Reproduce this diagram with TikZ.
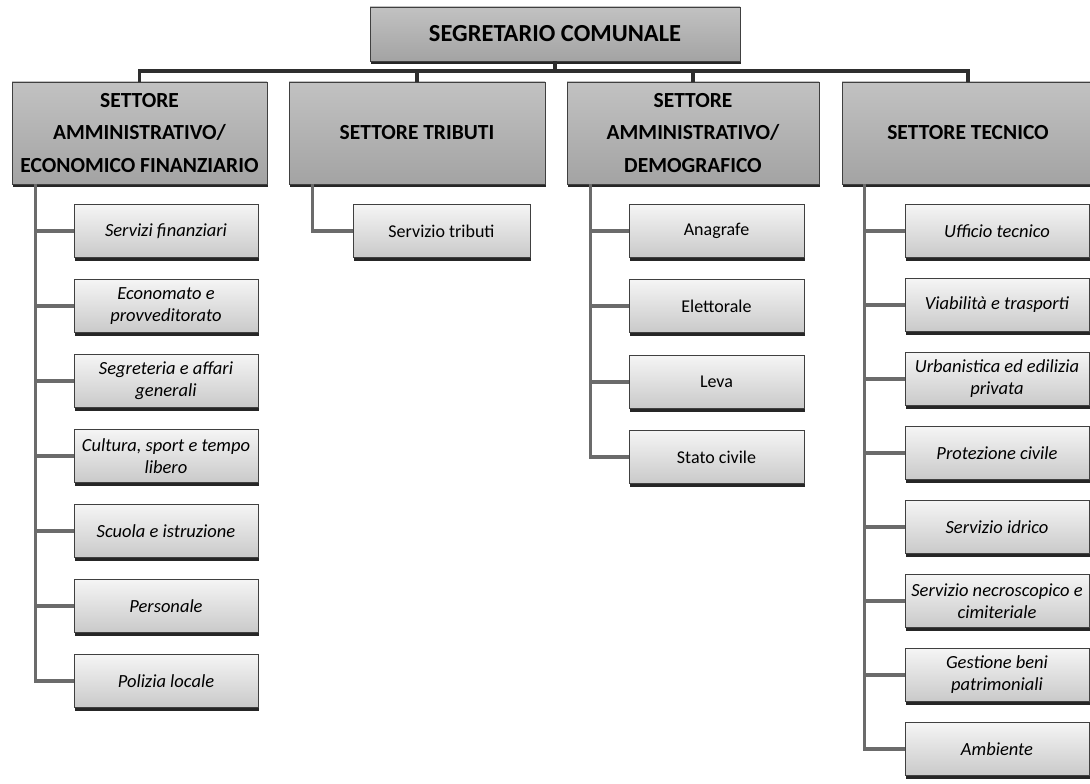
\documentclass[tikz,border=0pt]{standalone}
\usepackage{fontspec}
\setmainfont{Carlito}
\usetikzlibrary{shadows}
\begin{document}
\begin{tikzpicture}[x=1pt,y=-1pt,
  boxbase/.style={draw=black!75, line width=0.8pt, rectangle, align=center, inner sep=2pt,
     drop shadow={shadow xshift=1.2pt, shadow yshift=-3pt, fill=black!85, opacity=1}},
  headbox/.style={boxbase, top color=black!24, bottom color=black!36,
     font=\fontsize{21.5}{32.5}\selectfont\bfseries, minimum height=102pt},
  rootbox/.style={boxbase, top color=black!24, bottom color=black!36,
     font=\fontsize{24.5}{28}\selectfont\bfseries, minimum width=370pt, minimum height=54pt},
  childbox/.style={boxbase, top color=black!4, bottom color=black!21,
     font=\fontsize{18}{22}\selectfont, minimum height=53pt},
  itbox/.style={childbox, font=\fontsize{18.5}{22}\selectfont\itshape},
  bar/.style={draw=black!82, line width=3.4pt},
  conn/.style={draw=black!58, line width=3.4pt}
]
\useasboundingbox[fill=white] (0,0) rectangle (1090,784);

% root and headers
\node[rootbox] (root) at (555,34) {SEGRETARIO COMUNALE};
\node[headbox, minimum width=255pt] (h1) at (139.5,133) {SETTORE\\AMMINISTRATIVO/\\ECONOMICO FINANZIARIO};
\node[headbox, minimum width=256pt] (h2) at (417,133) {SETTORE TRIBUTI};
\node[headbox, minimum width=252pt] (h3) at (693,133) {SETTORE\\AMMINISTRATIVO/\\DEMOGRAFICO};
\node[headbox, minimum width=252pt] (h4) at (968,133) {SETTORE TECNICO};

% bus
\coordinate (bus) at (0,71);

% children of h1
\node[itbox, minimum width=184pt] (a1) at (166,231) {Servizi finanziari};
\node[itbox, minimum width=184pt] (a2) at (166,306) {Economato e\\provveditorato};
\node[itbox, minimum width=184pt] (a3) at (166,381) {Segreteria e affari\\generali};
\node[itbox, minimum width=184pt] (a4) at (166,456) {Cultura, sport e tempo\\libero};
\node[itbox, minimum width=184pt] (a5) at (166,531) {Scuola e istruzione};
\node[itbox, minimum width=184pt] (a6) at (166,606) {Personale};
\node[itbox, minimum width=184pt] (a7) at (166,681) {Polizia locale};

% child of h2
\node[childbox, minimum width=177pt] (b1) at (441.5,231) {Servizio tributi};

% children of h3
\node[childbox, minimum width=175pt] (c1) at (716.5,231) {Anagrafe};
\node[childbox, minimum width=175pt] (c2) at (716.5,306) {Elettorale};
\node[childbox, minimum width=175pt] (c3) at (716.5,382) {Leva};
\node[childbox, minimum width=175pt] (c4) at (716.5,457) {Stato civile};

% children of h4
\node[itbox, minimum width=184pt] (d1) at (997,231) {Ufficio tecnico};
\node[itbox, minimum width=184pt] (d2) at (997,305) {Viabilità e trasporti};
\node[itbox, minimum width=184pt] (d3) at (997,379) {Urbanistica ed edilizia\\privata};
\node[itbox, minimum width=184pt] (d4) at (997,453) {Protezione civile};
\node[itbox, minimum width=184pt] (d5) at (997,527) {Servizio idrico};
\node[itbox, minimum width=184pt] (d6) at (997,601) {Servizio necroscopico e\\cimiteriale};
\node[itbox, minimum width=184pt] (d7) at (997,675) {Gestione beni\\patrimoniali};
\node[itbox, minimum width=184pt] (d8) at (997,749) {Ambiente};

% connectors: bus
\draw[bar] (h1.north) |- (bus -| h4.north) -- (h4.north);
\draw[bar] (root.south) -- (root.south |- bus);
\draw[bar] (h2.north) -- (h2.north |- bus);
\draw[bar] (h3.north) -- (h3.north |- bus);

% connectors: children
\foreach \c in {a1,a2,a3,a4,a5,a6,a7}
  \draw[conn] ([xshift=24pt]h1.south west) |- (\c.west);
\draw[conn] ([xshift=24pt]h2.south west) |- (b1.west);
\foreach \c in {c1,c2,c3,c4}
  \draw[conn] ([xshift=24pt]h3.south west) |- (\c.west);
\foreach \c in {d1,d2,d3,d4,d5,d6,d7,d8}
  \draw[conn] ([xshift=23pt]h4.south west) |- (\c.west);
\end{tikzpicture}
\end{document}
